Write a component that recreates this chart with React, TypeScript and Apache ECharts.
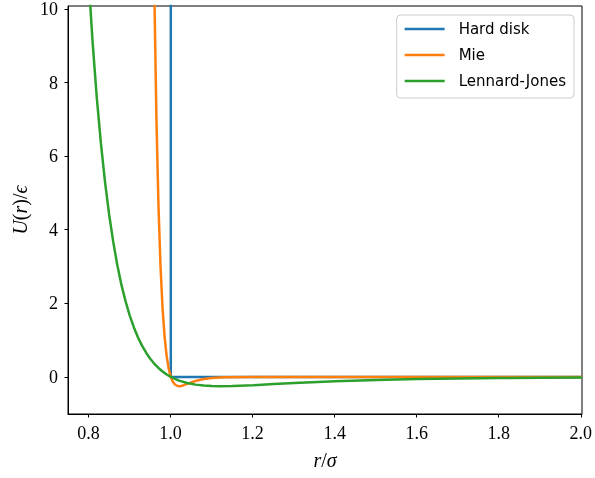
import React, { useEffect, useRef } from "react";
import * as echarts from "echarts";

// Hard disk potential
const hdR = [1.0, 1.0, 2.0];
const hdU = [12, 0, 0];

// Mie potential
const mieR = [0.955, 0.96, 0.965, 0.97, 0.975, 0.98, 0.985, 0.99, 0.995, 1.0, 1.005, 1.01, 1.015, 1.02, 1.025, 1.03, 1.04, 1.05, 1.06, 1.08, 1.1, 1.13, 1.2, 1.3, 2.0];
const mieU = [15.2, 10.36, 6.99, 4.63, 2.98, 1.85, 1.075, 0.556, 0.216, 0, -0.131, -0.205, -0.24, -0.25, -0.245, -0.23, -0.189, -0.147, -0.11, -0.057, -0.029, -0.01, -0.001, 0, 0];

// Lennard-Jones potential
const ljR = [0.79, 0.8, 0.81, 0.82, 0.83, 0.84, 0.85, 0.86, 0.87, 0.88, 0.89, 0.9, 0.91, 0.92, 0.93, 0.94, 0.95, 0.96, 0.97, 0.98, 0.99, 1.0, 1.02, 1.04, 1.06, 1.08, 1.1, 1.12, 1.15, 1.2, 1.25, 1.3, 1.4, 1.5, 1.6, 1.7, 1.8, 1.9, 2.0];
const ljU = [12.81, 10.74, 9.0, 7.53, 6.3, 5.26, 4.38, 3.64, 3.01, 2.48, 2.04, 1.66, 1.34, 1.07, 0.843, 0.652, 0.49, 0.354, 0.241, 0.146, 0.066, 0, -0.099, -0.166, -0.208, -0.233, -0.246, -0.25, -0.245, -0.223, -0.193, -0.164, -0.115, -0.08, -0.056, -0.04, -0.029, -0.021, -0.015];

const seriesNames = ["Hard disk", "Mie", "Lennard-Jones"];
const seriesColors = ["#1f77b4", "#ff7f0e", "#2ca02c"];

const zip = (a: number[], b: number[]) => a.map((v, i) => [v, b[i]]);

const SERIF = "Liberation Serif";

export default function App() {
  const ref = useRef<HTMLDivElement>(null);
  useEffect(() => {
    const chart = echarts.init(ref.current!, null, { renderer: "svg" });
    const plotW = 582 - 68;
    const pxPerX = plotW / 1.25;
    const plotH = 414 - 6;
    const pxPerY = plotH / 11;
    const nameStyle = {
      fontFamily: SERIF,
      fontSize: 20,
      color: "#000",
      rich: { i: { fontFamily: SERIF, fontSize: 20, fontStyle: "italic", color: "#000" } },
    };
    const datas = [zip(hdR, hdU), zip(mieR, mieU), zip(ljR, ljU)];
    chart.setOption({
      animation: false,
      grid: [
        { left: 68, right: 13, top: 6, bottom: 64, show: true, borderColor: "#000", borderWidth: 1, backgroundColor: "transparent" },
        { left: 68 + 0.05 * pxPerX, right: 13, top: 6, bottom: 64 + pxPerY },
      ],
      legend: {
        orient: "vertical",
        right: 21,
        top: 15,
        itemWidth: 40,
        itemHeight: 2.5,
        icon: "rect",
        itemGap: 10,
        padding: [6, 8, 9, 8],
        borderColor: "#cccccc",
        borderWidth: 1,
        borderRadius: 4,
        backgroundColor: "rgba(255,255,255,0.8)",
        data: seriesNames,
        textStyle: { fontFamily: "DejaVu Sans", fontSize: 15, lineHeight: 16, color: "#000", padding: [0, 0, 0, 9] },
      },
      xAxis: [
        {
          gridIndex: 0,
          type: "value",
          min: 0.75,
          max: 2.0,
          axisLine: { show: true, onZero: false, lineStyle: { color: "#000", width: 1 } },
          axisTick: { show: false },
          axisLabel: { show: false },
          splitLine: { show: false },
          name: "{i|r}/{i|σ}",
          nameLocation: "middle",
          nameGap: 36,
          nameTextStyle: nameStyle,
        },
        {
          gridIndex: 1,
          type: "value",
          min: 0.8,
          max: 2.0,
          interval: 0.2,
          position: "bottom",
          offset: pxPerY,
          axisLine: { show: false, onZero: false },
          axisTick: { show: true, inside: false, length: 3.5, lineStyle: { color: "#000", width: 1 } },
          axisLabel: { margin: 10, fontFamily: SERIF, fontSize: 18, color: "#000", formatter: (v: number) => v.toFixed(1) },
          splitLine: { show: false },
        },
      ],
      yAxis: [
        {
          gridIndex: 0,
          type: "value",
          min: -1,
          max: 10,
          axisLine: { show: true, onZero: false, lineStyle: { color: "#000", width: 1 } },
          axisTick: { show: false },
          axisLabel: { show: false },
          splitLine: { show: false },
          name: "{i|U}({i|r})/{i|ϵ}",
          nameLocation: "middle",
          nameGap: 38,
          nameRotate: 90,
          nameTextStyle: nameStyle,
        },
        {
          gridIndex: 1,
          type: "value",
          min: 0,
          max: 10,
          interval: 2,
          offset: 0.05 * pxPerX,
          axisLine: { show: false, onZero: false },
          axisTick: { show: true, inside: false, length: 3.5, lineStyle: { color: "#000", width: 1 } },
          axisLabel: { margin: 10, fontFamily: SERIF, fontSize: 18, color: "#000" },
          splitLine: { show: false },
        },
      ],
      series: seriesNames.map((name, i) => ({
        type: "line",
        name,
        xAxisIndex: 0,
        yAxisIndex: 0,
        data: datas[i],
        symbol: "none",
        showSymbol: false,
        clip: true,
        color: seriesColors[i],
        lineStyle: { width: 2.5, color: seriesColors[i] },
        itemStyle: { color: seriesColors[i] },
      })),
    });
    return () => chart.dispose();
  }, []);
  return <div ref={ref} style={{ position: "fixed", left: 0, top: 0, width: 595, height: 478 }} />;
}
